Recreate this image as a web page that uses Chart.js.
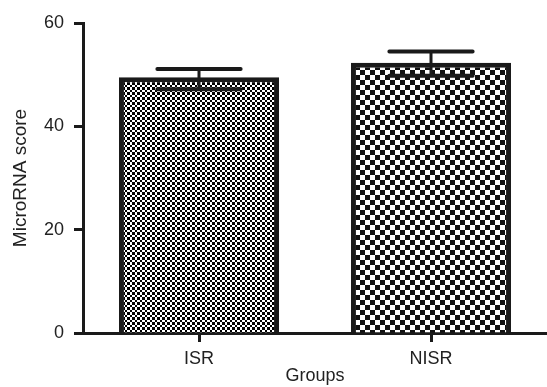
<!DOCTYPE html>
<html>
<head>
<meta charset="utf-8">
<script src="https://cdn.jsdelivr.net/npm/chart.js@4/dist/chart.umd.min.js"></script>
<style>
  body { margin: 0; background: #fff; }
  #wrap { width: 547px; height: 387px; }
</style>
</head>
<body>
<div id="wrap"><canvas id="chart" width="547" height="387"></canvas></div>
<script>
// data
const groups = ["ISR", "NISR"];
const scores = [49.5, 52.3];
const errHigh = [51.1, 54.5];
const errLow = [47.2, 49.8];
const yTicks = [0, 20, 40, 60];

const canvas = document.getElementById("chart");
const context = canvas.getContext("2d");
const ink = "#1a1a1a";
const textColor = "#222";

// checkerboard fill, cells = [a, b] pixel sizes
function checker(cells, dark) {
    const size = cells[0] + cells[1];
    const c = document.createElement("canvas");
    c.width = size;
    c.height = size;
    const g = c.getContext("2d");
    g.fillStyle = "#fff";
    g.fillRect(0, 0, size, size);
    g.fillStyle = dark;
    g.fillRect(0, 0, cells[0], cells[0]);
    g.fillRect(cells[0], cells[0], cells[1], cells[1]);
    return context.createPattern(c, "repeat");
}

const fills = [checker([2, 3], "#000"), checker([5, 5], "#111")];

// SEM bars on top of the columns
const errorBars = {
    id: "errorBars",
    afterDatasetsDraw(chart) {
        const ctx = chart.ctx;
        const y = chart.scales.y;
        const meta = chart.getDatasetMeta(0);
        ctx.save();
        ctx.strokeStyle = ink;
        ctx.lineCap = "round";
        meta.data.forEach((bar, i) => {
            const top = y.getPixelForValue(errHigh[i]);
            const bot = y.getPixelForValue(errLow[i]);
            const half = bar.width * 0.26;
            ctx.lineWidth = 3;
            ctx.beginPath();
            ctx.moveTo(bar.x, top);
            ctx.lineTo(bar.x, bot);
            ctx.stroke();
            ctx.lineWidth = 4;
            ctx.beginPath();
            ctx.moveTo(bar.x - half, top);
            ctx.lineTo(bar.x + half, top);
            ctx.moveTo(bar.x - half, bot);
            ctx.lineTo(bar.x + half, bot);
            ctx.stroke();
        });
        ctx.restore();
    }
};

const chart = new Chart(context, {
    type: "bar",
    data: {
        labels: groups,
        datasets: [{
            data: scores,
            backgroundColor: fills,
            borderColor: ink,
            borderWidth: 5,
            borderSkipped: "start",
            categoryPercentage: 1,
            barPercentage: 0.69
        }]
    },
    options: {
        responsive: false,
        animation: false,
        layout: { padding: { top: 23, right: 0, left: 0, bottom: 0 } },
        plugins: { legend: { display: false }, tooltip: { enabled: false } },
        scales: {
            x: {
                z: 1,
                grid: { display: true, drawOnChartArea: false, offset: false, tickLength: 9, tickWidth: 3, tickColor: ink },
                border: { display: true, width: 3, color: ink },
                ticks: { color: textColor, padding: 6, font: { family: "Liberation Sans", size: 18 } },
                title: { display: true, text: "Groups", color: textColor, padding: { top: 0, bottom: 0 }, font: { family: "Liberation Sans", size: 18 } },
                afterFit(scale) { scale.height = 54; }
            },
            y: {
                min: 0,
                max: 60,
                afterBuildTicks(scale) { scale.ticks = yTicks.map(v => ({ value: v })); },
                grid: { display: true, drawOnChartArea: false, tickLength: 9, tickWidth: 3, tickColor: ink },
                border: { display: true, width: 3, color: ink },
                ticks: { color: textColor, padding: 10, font: { family: "Liberation Sans", size: 18 } },
                title: { display: true, text: "MicroRNA score", color: textColor, padding: { top: 9, bottom: 0 }, font: { family: "Liberation Sans", size: 19 } },
                afterFit(scale) { scale.width = 83; }
            }
        }
    },
    plugins: [errorBars]
});
</script>
</body>
</html>
